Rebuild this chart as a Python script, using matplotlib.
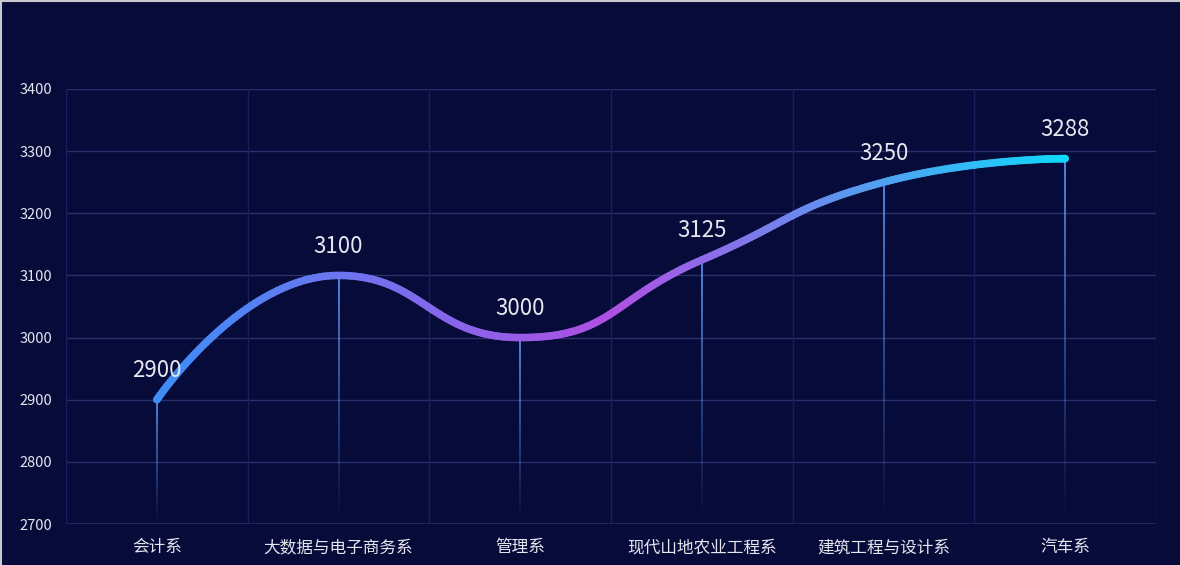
import numpy as np
import matplotlib
matplotlib.use("Agg")
import matplotlib.pyplot as plt
from matplotlib.collections import LineCollection
from matplotlib.colors import LinearSegmentedColormap, to_rgba
from matplotlib.lines import Line2D

plt.rcParams['font.family'] = ['Noto Sans CJK SC', 'DejaVu Sans']

# data
departments = ['会计系', '大数据与电子商务系', '管理系', '现代山地农业工程系', '建筑工程与设计系', '汽车系']
scores = [2900, 3100, 3000, 3125, 3250, 3288]
y_ticks = [2700, 2800, 2900, 3000, 3100, 3200, 3300, 3400]

BG = '#070b3a'
GRID_H = '#292f6b'
GRID_V = '#181f5d'
TEXT = '#e6e6ee'


def echarts_smooth(xs, ys, smooth=0.5, steps=60):
    """cubic bezier smoothing the way echarts draws `smooth: true` lines"""
    n = len(xs)
    out_x, out_y = [xs[0]], [ys[0]]
    cpx0, cpy0 = xs[0], ys[0]
    for i in range(1, n):
        x, y = xs[i], ys[i]
        px, py = xs[i - 1], ys[i - 1]
        if i == n - 1:
            cpx1, cpy1 = x, y
            ncx, ncy = x, y
        else:
            nx, ny = xs[i + 1], ys[i + 1]
            vx, vy = nx - px, ny - py
            len_prev = np.hypot(x - px, y - py)
            len_next = np.hypot(nx - x, ny - y)
            ratio = len_next / (len_next + len_prev)
            ncx = x + vx * smooth * ratio
            ncy = y + vy * smooth * ratio
            ncx = max(min(ncx, max(nx, x)), min(nx, x))
            ncy = max(min(ncy, max(ny, y)), min(ny, y))
            vx, vy = ncx - x, ncy - y
            cpx1 = x - vx * len_prev / len_next
            cpy1 = y - vy * len_prev / len_next
            cpx1 = max(min(cpx1, max(px, x)), min(px, x))
            cpy1 = max(min(cpy1, max(py, y)), min(py, y))
            vx, vy = x - cpx1, y - cpy1
            ncx = x + vx * len_next / len_prev
            ncy = y + vy * len_next / len_prev
        t = np.linspace(0, 1, steps)[1:]
        bx = (1 - t) ** 3 * px + 3 * (1 - t) ** 2 * t * cpx0 + 3 * (1 - t) * t ** 2 * cpx1 + t ** 3 * x
        by = (1 - t) ** 3 * py + 3 * (1 - t) ** 2 * t * cpy0 + 3 * (1 - t) * t ** 2 * cpy1 + t ** 3 * y
        out_x.extend(bx)
        out_y.extend(by)
        cpx0, cpy0 = ncx, ncy
    return np.array(out_x), np.array(out_y)


fig = plt.figure(figsize=(11.8, 5.65), dpi=100, facecolor=BG)
ax = fig.add_axes([66 / 1180, 41 / 565, 1090 / 1180, 435 / 565])
ax.set_facecolor(BG)

x = np.arange(len(departments))
ax.set_xlim(-0.5, len(departments) - 0.5)
ax.set_ylim(y_ticks[0], y_ticks[-1])

# smooth in pixel space so the curve looks like the original
sx = 1090 / len(departments)
sy = 435 / (y_ticks[-1] - y_ticks[0])
cx, cy = echarts_smooth(x * sx, np.array(scores) * sy)
cx, cy = cx / sx, cy / sy

# grid
for v in y_ticks[1:]:
    ax.axhline(v, color=GRID_H, lw=1, zorder=1)
for b in np.arange(-0.5, len(departments), 1.0):
    ax.axvline(b, color=GRID_V, lw=1, zorder=1)
ax.axhline(y_ticks[0], color='#252b66', lw=1.2, zorder=1)

# drop lines fading to the bottom
for xi, v in zip(x, scores):
    ys = np.linspace(v, y_ticks[0], 40)
    segs = [[(xi, ys[j]), (xi, ys[j + 1])] for j in range(len(ys) - 1)]
    alphas = np.linspace(0.95, 0.0, len(segs))
    cols = [to_rgba('#5b95f0', a) for a in alphas]
    ax.add_collection(LineCollection(segs, colors=cols, linewidths=1.3, zorder=2))

# gradient line
cmap = LinearSegmentedColormap.from_list('grad', ['#3d8ef7', '#b04fe3', '#10d8fa'])
pts = np.column_stack([cx, cy]).reshape(-1, 1, 2)
segs = np.concatenate([pts[:-1], pts[1:]], axis=1)
norm_x = (cx[:-1] - cx.min()) / (cx.max() - cx.min())
lc = LineCollection(segs, colors=cmap(norm_x), linewidths=5.4, capstyle='round',
                    joinstyle='round', zorder=3)
ax.add_collection(lc)

for xi, v in zip(x, scores):
    ax.annotate(str(v), (xi, v), xytext=(0, 21), textcoords='offset points',
                ha='center', va='center', fontsize=16, color=TEXT, zorder=4)

ax.set_xticks(x)
ax.set_xticklabels(departments, fontsize=12, color=TEXT)
ax.set_yticks(y_ticks)
ax.set_yticklabels([str(v) for v in y_ticks], fontsize=10.5, color=TEXT)
ax.tick_params(axis='both', length=0)
ax.tick_params(axis='x', pad=11)
ax.tick_params(axis='y', pad=10)
for s in ax.spines.values():
    s.set_visible(False)

# thin light frame on the top and left edges of the picture
fig.add_artist(Line2D([0, 1], [0.998, 0.998], transform=fig.transFigure, color='#c8c8d0', lw=1.5))
fig.add_artist(Line2D([0.001, 0.001], [0, 1], transform=fig.transFigure, color='#c8c8d0', lw=1.5))

fig.savefig('out.png', dpi=100, facecolor=BG)
